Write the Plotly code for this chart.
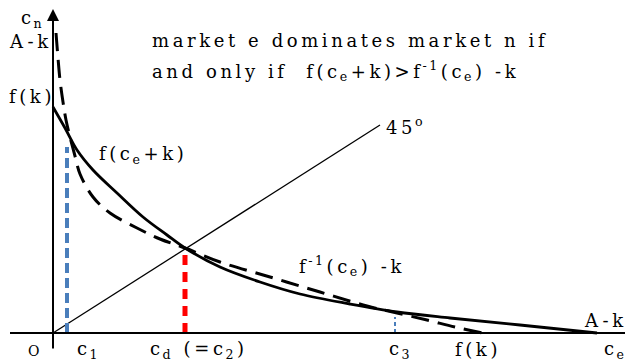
import plotly.graph_objects as go

# f(c_e + k) curve (solid)
fck_x = [0, 12, 24, 40, 64, 90, 114, 132, 167, 207, 247, 297, 344, 397, 467, 544]
fck_y = [226, 205, 183, 163, 140, 116, 98, 85, 66, 51, 39, 29, 21, 15, 8, 0]

# f^-1(c_e) - k curve (dashed)
finv_x = [3, 5, 7, 10, 13, 17, 22, 27, 40, 57, 84, 107, 132, 167, 217, 267, 314, 344, 374, 402, 430]
finv_y = [300, 275, 253, 231, 213, 196, 177, 159, 136, 120, 105, 94, 85, 71, 56, 41, 27, 20, 13, 6, 0]

# 45 degree line
diag_x = [0, 327]
diag_y = [0, 208]

# drop lines at c1, cd (=c2), c3
c1_x, c1_top = 14, 186
cd_x, cd_top = 132, 83
c3_x, c3_top = 342, 16

FONT = "DejaVu Serif"
THIN = "\u2009"


def track(s):
    # wide letter spacing: thin space between every visible character
    out = []
    i = 0
    started = False
    while i < len(s):
        if s[i] == "<":
            j = s.index(">", i)
            out.append(s[i:j + 1])
            i = j + 1
        else:
            if started:
                out.append(THIN)
            out.append(s[i])
            started = True
            i += 1
    return "".join(out)


fig = go.Figure()

fig.add_trace(go.Scatter(x=diag_x, y=diag_y, mode="lines",
                         line=dict(color="black", width=1.3)))
fig.add_trace(go.Scatter(x=[c1_x, c1_x], y=[0, c1_top], mode="lines",
                         line=dict(color="#4a7ebb", width=4, dash="10px,5px")))
fig.add_trace(go.Scatter(x=[cd_x, cd_x], y=[0, cd_top], mode="lines",
                         line=dict(color="#ff0000", width=5, dash="10px,7px")))
fig.add_trace(go.Scatter(x=[c3_x, c3_x], y=[0, c3_top], mode="lines",
                         line=dict(color="#4a7ebb", width=2, dash="4px,3px")))
fig.add_trace(go.Scatter(x=fck_x, y=fck_y, mode="lines", line_shape="spline",
                         line=dict(color="black", width=2.8)))
fig.add_trace(go.Scatter(x=finv_x, y=finv_y, mode="lines", line_shape="spline",
                         line=dict(color="black", width=3, dash="18px,9px")))

# axes drawn by hand
fig.add_shape(type="line", x0=-43, y0=0, x1=580, y1=0, line=dict(color="black", width=2))
fig.add_annotation(x=0, y=324, ax=0, ay=-17, xref="x", yref="y", axref="x", ayref="y",
                   text="", showarrow=True, arrowhead=2, arrowsize=1.2, arrowwidth=2,
                   arrowcolor="black")

labels = [
    (-22, 314, track("c<sub>n</sub>"), 18),
    (-24, 292, "A\u2005-" + THIN + "k", 18),
    (-23, 237, track("f(k)"), 18),
    (88, 178, track("f(c<sub>e</sub>+k)"), 18),
    (351, 207, track("45<sup>o</sup>"), 18),
    (297, 67, track("f<sup>-1</sup>(c<sub>e</sub>) -k"), 18),
    (551, 13, "A\u2005-" + THIN + "k", 18),
    (-20, -18, "O", 14),
    (34, -17, track("c<sub>1</sub>"), 18),
    (144, -17, track("c<sub>d</sub> (=c<sub>2</sub>)"), 18),
    (346, -17, track("c<sub>3</sub>"), 18),
    (423, -16, track("f(k)"), 18),
    (561, -17, track("c<sub>e</sub>"), 18),
]
for lx, ly, txt, size in labels:
    fig.add_annotation(x=lx, y=ly, xref="x", yref="y", text=txt, showarrow=False,
                       font=dict(family=FONT, size=size, color="black"))

title_lines = [
    (97, 293, track("market e dominates market n if")),
    (97, 262, track("and only if  f(c<sub>e</sub>+k)>f<sup>-1</sup>(c<sub>e</sub>) -k")),
]
for lx, ly, txt in title_lines:
    fig.add_annotation(x=lx, y=ly, xref="x", yref="y", text=txt, showarrow=False,
                       xanchor="left", font=dict(family=FONT, size=18, color="black"))

# the page puts the plot 8px in from the top-left, so the ranges are shifted to match
fig.update_layout(
    width=625, height=355,
    margin=dict(l=0, r=0, t=0, b=0),
    paper_bgcolor="white", plot_bgcolor="white",
    showlegend=False,
    xaxis=dict(range=[-45, 580], visible=False),
    yaxis=dict(range=[-30, 325], visible=False),
)

fig.write_html("out.html")
